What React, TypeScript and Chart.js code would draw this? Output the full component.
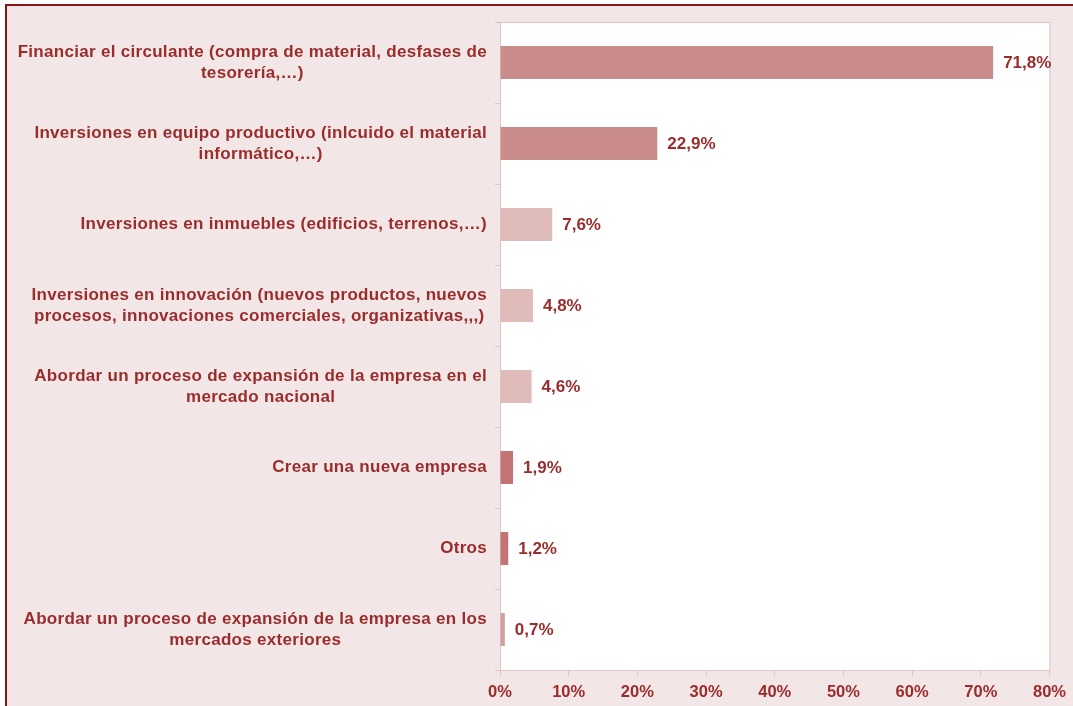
import React, { useEffect, useRef } from "react";
import { Chart, registerables } from "chart.js";

Chart.register(...registerables);

const categories: string[][] = [
  ["Financiar el circulante (compra de material, desfases de", "tesorería,…)"],
  ["Inversiones en equipo productivo (inlcuido el material", "informático,…)"],
  ["Inversiones en inmuebles (edificios, terrenos,…)"],
  ["Inversiones en innovación (nuevos productos, nuevos", "procesos, innovaciones comerciales, organizativas,,,)"],
  ["Abordar un proceso de expansión de la empresa en el", "mercado nacional"],
  ["Crear una nueva empresa"],
  ["Otros"],
  ["Abordar un proceso de expansión de la empresa en los", "mercados exteriores"],
];

const values: number[] = [71.8, 22.9, 7.6, 4.8, 4.6, 1.9, 1.2, 0.7];

const xTicks: number[] = [0, 10, 20, 30, 40, 50, 60, 70, 80];

const barColors = ["#c98c8b", "#c98c8b", "#dfbbba", "#dfbbba", "#dfbbba", "#c27474", "#c27474", "#d3a0a0"];

const TEXT = "#9b2c2c";
const FONT = "'Liberation Sans', Arial, sans-serif";

export default function App() {
  const ref = useRef<HTMLCanvasElement | null>(null);

  useEffect(() => {
    document.body.style.margin = "0";
    const canvas = ref.current!;
    const plotBg = {
      id: "plotBg",
      beforeDraw(chart: any) {
        const { ctx, chartArea: a } = chart;
        ctx.save();
        ctx.fillStyle = "#ffffff";
        ctx.fillRect(a.left, a.top, a.right - a.left, a.bottom - a.top);
        ctx.strokeStyle = "#e2c4c4";
        ctx.lineWidth = 1;
        ctx.strokeRect(a.left + 0.5, a.top + 0.5, a.right - a.left, a.bottom - a.top);
        ctx.restore();
      },
    };
    const labels = {
      id: "labels",
      afterDraw(chart: any) {
        const { ctx } = chart;
        const ys = chart.scales.y;
        ctx.save();
        ctx.font = `bold 17px ${FONT}`;
        (ctx as any).letterSpacing = "0.3px";
        ctx.fillStyle = TEXT;
        ctx.textBaseline = "middle";
        ctx.textAlign = "center";
        categories.forEach((lines, i) => {
          const y = ys.getPixelForValue(i);
          const w = Math.max(...lines.map((l) => ctx.measureText(l).width));
          const cx = 487 - w / 2;
          const lh = 21;
          const y0 = y - ((lines.length - 1) * lh) / 2;
          lines.forEach((l, k) => ctx.fillText(l, cx, y0 + k * lh));
        });
        (ctx as any).letterSpacing = "0px";
        const meta = chart.getDatasetMeta(0);
        ctx.textAlign = "left";
        meta.data.forEach((bar: any, i: number) => {
          const txt = values[i].toFixed(1).replace(".", ",") + "%";
          ctx.fillText(txt, bar.x + 10, bar.y + 1);
        });
        ctx.restore();
      },
    };

    const chart = new Chart(canvas, {
      type: "bar",
      data: {
        labels: categories.map((c) => c.join(" ")),
        datasets: [
          {
            data: values,
            backgroundColor: barColors,
            borderWidth: 0,
            barPercentage: 0.41,
            categoryPercentage: 1,
          },
        ],
      },
      options: {
        indexAxis: "y",
        animation: false,
        responsive: false,
        maintainAspectRatio: false,
        layout: { padding: { top: 22, right: 23, left: 0, bottom: 0 } },
        plugins: { legend: { display: false }, tooltip: { enabled: false } },
        scales: {
          x: {
            min: 0,
            max: 80,
            afterBuildTicks: (s: any) => {
              s.ticks = xTicks.map((v) => ({ value: v }));
            },
            afterFit: (s: any) => {
              s.height = 36;
            },
            grid: {
              drawOnChartArea: false,
              drawTicks: true,
              tickLength: 6,
              color: "#e2c4c4",
            },
            border: { color: "#e2c4c4" },
            ticks: {
              color: TEXT,
              font: { family: FONT, size: 16.5, weight: "bold" },
              padding: 7,
              maxRotation: 0,
              callback: (v: any) => v + "%",
            },
          },
          y: {
            offset: true,
            afterFit: (s: any) => {
              s.width = 500;
            },
            grid: {
              offset: true,
              drawOnChartArea: false,
              drawTicks: true,
              tickLength: 5,
              color: "#e2c4c4",
            },
            border: { color: "#e2c4c4" },
            ticks: { display: false },
          },
        },
      },
      plugins: [plotBg, labels],
    } as any);
    return () => chart.destroy();
  }, []);

  return (
    <div style={{ position: "absolute", left: 0, top: 0, width: 1073, height: 706, background: "#ffffff", overflow: "hidden" }}>
      <div
        style={{
          position: "absolute",
          left: 5,
          top: 4,
          width: 1100,
          height: 760,
          background: "#f3e6e6",
          borderTop: "2px solid #8b1414",
          borderLeft: "2px solid #8b1414",
        }}
      />
      <canvas ref={ref} width={1073} height={706} style={{ position: "absolute", left: 0, top: 0 }} />
    </div>
  );
}
